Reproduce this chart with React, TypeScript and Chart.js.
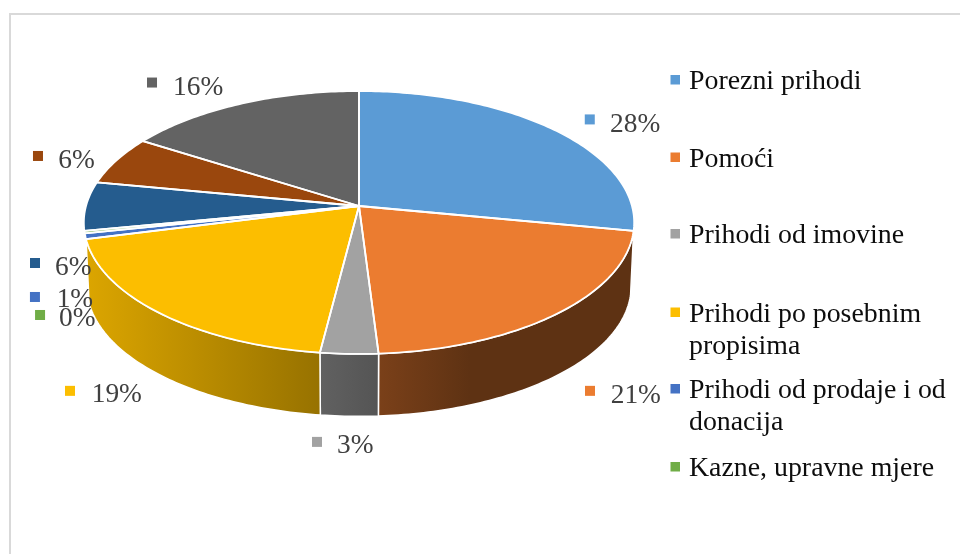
import React, { useEffect, useRef } from "react";
import { Chart, registerables } from "chart.js";

Chart.register(...registerables);

// ---- data ----
const categories = [
  "Porezni prihodi",
  "Pomoći",
  "Prihodi od imovine",
  "Prihodi po posebnim propisima",
  "Prihodi od prodaje i od donacija",
  "Kazne, upravne mjere",
  "",
  "",
  "",
];
const shares = [28, 21, 3, 19, 0.7, 0.3, 6, 6, 16];
const sliceColors = [
  "#5B9BD5", "#EB7C30", "#A2A2A2", "#FCBE00", "#4472C4",
  "#70AD47", "#255C8E", "#9A470D", "#636363",
];
const legendLines = [
  ["Porezni prihodi"],
  ["Pomoći"],
  ["Prihodi od imovine"],
  ["Prihodi po posebnim", "propisima"],
  ["Prihodi od prodaje i od", "donacija"],
  ["Kazne, upravne mjere"],
];

// ---- layout / style ----
const LEGEND_FONT = '27.85px "Liberation Serif", serif';
const LABEL_FONT = '27.4px "Liberation Serif", serif';
const PERSPECTIVE = 0.1255;
const TILT = 0.474;
const LIFT = 71; // apex sits above the layout centre
const DEPTH = 64;
const LOWER_SCALE = 0.989;
const legendBaselines = [89, 166.5, 243, 321.5, 398, 476];
// marker offset from the slice's rim midpoint, then text offset from the marker
const labelNudges = [
  [31, -15.2, 25.3, 17.5], [26.7, 72.7, 25.7, 17], [-37.2, 83, 25, 16.5],
  [-94.7, 72.7, 26.7, 16], [-55.4, 55.7, 26.7, 15], [-49.5, 77.9, 24, 16],
  [-56, 52, 25, 17], [-83.4, -9.5, 25.3, 17], [-93.5, -26.3, 26, 17],
];
const sideShade = [[88, 0.87], [320, 0.6], [380, 0.52], [470, 0.4], [633, 0.4]];

function project(el: any, angle: number, lower = false) {
  const u = Math.cos(angle);
  const v = Math.sin(angle);
  const w = 1 - PERSPECTIVE * v;
  const s = lower ? LOWER_SCALE : 1;
  const R = el.outerRadius * s;
  return {
    x: el.x + (R * u) / w,
    y: el.y - LIFT + (lower ? DEPTH : 0) + (R * TILT * v) / w,
  };
}

function sweep(el: any, a: number, b: number, lower: boolean) {
  const n = Math.max(2, Math.ceil(Math.abs(b - a) * 60));
  const pts = [];
  for (let i = 0; i <= n; i++) pts.push(project(el, a + ((b - a) * i) / n, lower));
  return pts;
}

function shadedFill(ctx: CanvasRenderingContext2D, color: string) {
  const r = parseInt(color.slice(1, 3), 16);
  const g = parseInt(color.slice(3, 5), 16);
  const b = parseInt(color.slice(5, 7), 16);
  const x0 = sideShade[0][0];
  const x1 = sideShade[sideShade.length - 1][0];
  const grad = ctx.createLinearGradient(x0, 0, x1, 0);
  for (const [x, f] of sideShade) {
    grad.addColorStop((x - x0) / (x1 - x0), `rgb(${r * f},${g * f},${b * f})`);
  }
  return grad;
}

const pie3dPlugin = {
  id: "pie3d",
  beforeDraw(chart: any) {
    const { ctx } = chart;
    ctx.save();
    ctx.strokeStyle = "#D9D9D9";
    ctx.lineWidth = 2;
    ctx.beginPath();
    ctx.moveTo(10, 554);
    ctx.lineTo(10, 14);
    ctx.lineTo(960, 14);
    ctx.stroke();
    ctx.restore();
  },
  beforeDatasetDraw(chart: any) {
    const { ctx } = chart;
    const arcs = chart.getDatasetMeta(0).data;
    ctx.save();
    ctx.lineJoin = "round";
    // outer wall of the front-facing slices
    arcs.forEach((el: any, i: number) => {
      const mid = (el.startAngle + el.endAngle) / 2;
      if (Math.sin(mid) < 0.25) return;
      const pts = [
        ...sweep(el, el.startAngle, el.endAngle, false),
        ...sweep(el, el.endAngle, el.startAngle, true),
      ];
      ctx.beginPath();
      pts.forEach((p, k) => (k ? ctx.lineTo(p.x, p.y) : ctx.moveTo(p.x, p.y)));
      ctx.closePath();
      ctx.fillStyle = shadedFill(ctx, sliceColors[i]);
      ctx.fill();
      ctx.strokeStyle = "#FFFFFF";
      ctx.lineWidth = 1.5;
      ctx.stroke();
    });
    // top faces
    arcs.forEach((el: any, i: number) => {
      const apex = { x: el.x, y: el.y - LIFT };
      const pts = sweep(el, el.startAngle, el.endAngle, false);
      ctx.beginPath();
      ctx.moveTo(apex.x, apex.y);
      pts.forEach((p) => ctx.lineTo(p.x, p.y));
      ctx.closePath();
      ctx.fillStyle = sliceColors[i];
      ctx.fill();
    });
    arcs.forEach((el: any) => {
      const apex = { x: el.x, y: el.y - LIFT };
      const pts = sweep(el, el.startAngle, el.endAngle, false);
      ctx.beginPath();
      ctx.moveTo(apex.x, apex.y);
      pts.forEach((p) => ctx.lineTo(p.x, p.y));
      ctx.closePath();
      ctx.strokeStyle = "#FFFFFF";
      ctx.lineWidth = 1.8;
      ctx.stroke();
    });
    ctx.restore();
    return false; // the faces above replace the flat arcs
  },
  afterDatasetsDraw(chart: any) {
    const { ctx } = chart;
    const arcs = chart.getDatasetMeta(0).data;
    ctx.save();
    ctx.textAlign = "left";
    ctx.textBaseline = "alphabetic";
    // value labels
    ctx.font = LABEL_FONT;
    arcs.forEach((el: any, i: number) => {
      const rim = project(el, (el.startAngle + el.endAngle) / 2);
      const [dx, dy, tx, ty] = labelNudges[i];
      const x = rim.x + dx;
      const y = rim.y + dy;
      ctx.fillStyle = sliceColors[i];
      ctx.fillRect(x, y, 10, 10);
      ctx.fillStyle = "#404040";
      ctx.fillText(`${Math.round(shares[i])}%`, x + tx, y + ty);
    });
    // legend
    ctx.font = LEGEND_FONT;
    legendLines.forEach((lines, i) => {
      const y = legendBaselines[i];
      ctx.fillStyle = sliceColors[i];
      ctx.fillRect(670.5, y - 14, 9.5, 9.5);
      ctx.fillStyle = "#0D0D0D";
      lines.forEach((t, k) => ctx.fillText(t, 689, y + k * 32));
    });
    ctx.restore();
  },
};

export default function App() {
  const ref = useRef<HTMLCanvasElement>(null);
  useEffect(() => {
    document.body.style.margin = "0";
    const chart = new Chart(ref.current!, {
      type: "pie",
      data: {
        labels: categories,
        datasets: [{ data: shares, backgroundColor: sliceColors, borderWidth: 0 }],
      },
      options: {
        responsive: false,
        animation: false,
        events: [],
        layout: { padding: { left: 86, right: 328, top: 0, bottom: 0 } },
        plugins: { legend: { display: false }, tooltip: { enabled: false } },
      },
      plugins: [pie3dPlugin],
    } as any);
    return () => chart.destroy();
  }, []);
  return (
    <canvas
      ref={ref}
      width={960}
      height={554}
      style={{ display: "block", position: "absolute", left: 0, top: 0 }}
    />
  );
}
